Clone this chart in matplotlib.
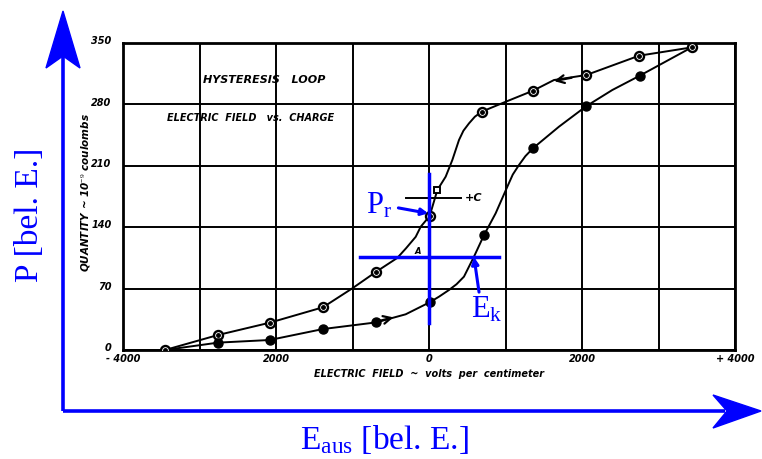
import matplotlib.pyplot as plt
from matplotlib.patches import Polygon

plt.rcParams['mathtext.fontset'] = 'custom'
plt.rcParams['mathtext.rm'] = 'Liberation Serif'
plt.rcParams['mathtext.it'] = 'Liberation Serif:italic'

# Hysteresis loop: electric field (V/cm) vs. charge (1e-9 C)
# descending branch, from positive saturation back to the negative tip
upper_x = [3434, 2745, 2056, 1634, 1359, 1002, 689, 600, 523, 450, 392, 305, 218, 109, 9,
           -108, -174, -300, -414, -689, -1002, -1386, -2083, -2758, -3451]
upper_y = [345, 335.5, 313.5, 307.8, 295.6, 283, 271.7, 266, 258.4, 250, 239.4, 216.6, 197.6,
           182.4, 152.8, 140.6, 129, 116, 105, 89.3, 70.3, 48.7, 31.1, 17.1, 0]
# ascending branch
lower_x = [-3451, -2758, -2083, -1386, -689, -305, 9, 131, 261, 360, 457, 588, 719, 871,
           1024, 1095, 1176, 1260, 1359, 1699, 2056, 2396, 2754, 3434]
lower_y = [0, 8.4, 11.4, 23.9, 31.5, 40.7, 54.4, 60.8, 68.4, 75, 83.6, 106.4, 131, 155.8,
           186.2, 200, 210.9, 221, 230, 254.6, 278, 296.4, 312.7, 345]

# measured points
upper_pts_x = [3434, 2745, 2056, 1359, 689, 9, -689, -1386, -2083, -2758, -3451]
upper_pts_y = [345, 335.5, 313.5, 295.6, 271.7, 152.8, 89.3, 48.7, 31.1, 17.1, 0]
lower_pts_x = [-2758, -2083, -1386, -689, 9, 719, 1359, 2056, 2754]
lower_pts_y = [8.4, 11.4, 23.9, 31.5, 54.4, 131, 230, 278, 312.7]

x_ticks = [-4000, -2000, 0, 2000, 4000]
x_labels = ['- 4000', '2000', '0', '2000', '+ 4000']
y_ticks = [0, 70, 140, 210, 280, 350]
y_labels = ['0', '70', '140', '210', '280', '350']

# remanent polarisation and coercive field marks
p_r = 152.8
e_k = 588
e_k_level = 106

fig = plt.figure(figsize=(7.62, 4.59), dpi=100)

# background layer in pixel units for the big blue axes
bg = fig.add_axes([0, 0, 1, 1], zorder=0)
bg.set_xlim(0, 762)
bg.set_ylim(459, 0)
bg.axis('off')
blue = '#0000ff'
bg.plot([63, 63], [411, 55], color=blue, lw=2.6, solid_capstyle='butt')
bg.plot([63, 725], [411, 411], color=blue, lw=2.6, solid_capstyle='butt')
bg.add_patch(Polygon([(63, 11), (80, 68), (63, 56), (46, 68)], closed=True, color=blue))
bg.add_patch(Polygon([(761, 411), (713, 395), (727, 411), (713, 428)], closed=True, color=blue))
bg.text(30, 215, 'P [bel. E.]', rotation=90, ha='center', va='center',
        color=blue, fontsize=24, family='Liberation Serif')
bg.text(384, 440, r'$\mathrm{E}_{\mathrm{aus}}$ [bel. E.]', ha='center', va='center',
        color=blue, fontsize=24, family='Liberation Serif')

ax = fig.add_axes([123 / 762, 1 - 350 / 459, 612 / 762, 307 / 459], zorder=1)
ax.set_xlim(-4000, 4000)
ax.set_ylim(0, 350)
ax.set_facecolor('none')

hand = dict(fontstyle='italic', fontweight='bold', color='black', family='DejaVu Sans')

ax.set_xticks(range(-4000, 4001, 1000))
ax.set_yticks(y_ticks)
ax.grid(True, color='black', lw=1.4)
ax.tick_params(length=0, labelbottom=False, labelleft=False)
for s in ax.spines.values():
    s.set_linewidth(2)
    s.set_color('black')

for xv, lab in zip(x_ticks, x_labels):
    ax.text(xv, -5, lab, ha='center', va='top', fontsize=7, **hand)
for yv, lab in zip(y_ticks, y_labels):
    ax.text(-4150, yv + 2, lab, ha='right', va='center', fontsize=7, **hand)

ax.text(0, -22, 'ELECTRIC  FIELD  ~  volts  per  centimeter', ha='center', va='top',
        fontsize=7, **hand)
ax.text(-4480, 180, 'QUANTITY ~ 10$^{-9}$ coulombs', rotation=90, ha='center', va='center',
        fontsize=7.5, **hand)
ax.text(-2160, 308, 'HYSTERESIS   LOOP', ha='center', va='center', fontsize=8, **hand)
ax.text(-2330, 265, 'ELECTRIC  FIELD   vs.  CHARGE', ha='center', va='center',
        fontsize=7, **hand)

ax.plot(upper_x, upper_y, color='black', lw=1.4, zorder=3)
ax.plot(lower_x, lower_y, color='black', lw=1.4, zorder=3)
ax.plot(upper_pts_x, upper_pts_y, 'o', ms=6.5, mfc='white', mec='black', mew=1.7, zorder=4)
ax.plot(upper_pts_x, upper_pts_y, 'o', ms=2.5, color='black', zorder=5)
ax.plot(lower_pts_x, lower_pts_y, 'o', ms=6.5, mfc='black', mec='black', zorder=4)

# direction arrows along the loop
ax.annotate('', xy=(1600, 306), xytext=(1900, 311),
            arrowprops=dict(arrowstyle='->', lw=1.6, color='black', mutation_scale=14))
ax.annotate('', xy=(-430, 38), xytext=(-700, 32),
            arrowprops=dict(arrowstyle='->', lw=1.6, color='black', mutation_scale=14))

# point B, +C marker and A
ax.plot([109], [182.4], 's', ms=5, mfc='white', mec='black', mew=1.4, zorder=5)
ax.plot([-300, 420], [173, 173], color='black', lw=1.4, zorder=3)
ax.text(470, 173, '+C', ha='left', va='center', fontsize=8, **hand)
ax.text(-140, 112, 'A', ha='center', va='center', fontsize=6, **hand)

# blue construction lines
ax.plot([0, 0], [30.8, 200.6], color=blue, lw=2.5, zorder=6)
ax.plot([-902, 915], [e_k_level, e_k_level], color=blue, lw=2.5, zorder=6)
ax.annotate('', xy=(-10, p_r + 3), xytext=(-400, 162),
            arrowprops=dict(arrowstyle='-|>', lw=2.2, color=blue, mutation_scale=10,
                            shrinkA=0, shrinkB=0), zorder=7)
ax.annotate('', xy=(e_k, e_k_level), xytext=(654, 66),
            arrowprops=dict(arrowstyle='-|>', lw=2.2, color=blue, mutation_scale=10,
                            shrinkA=0, shrinkB=0), zorder=7)
ax.text(-830, 156, r'$\mathrm{P}_\mathrm{r}$', ha='left', va='baseline', color=blue,
        fontsize=22, zorder=7)
ax.text(545, 37, r'$\mathrm{E}_\mathrm{k}$', ha='left', va='baseline', color=blue,
        fontsize=22, zorder=7)

fig.savefig('out.png', dpi=100)
